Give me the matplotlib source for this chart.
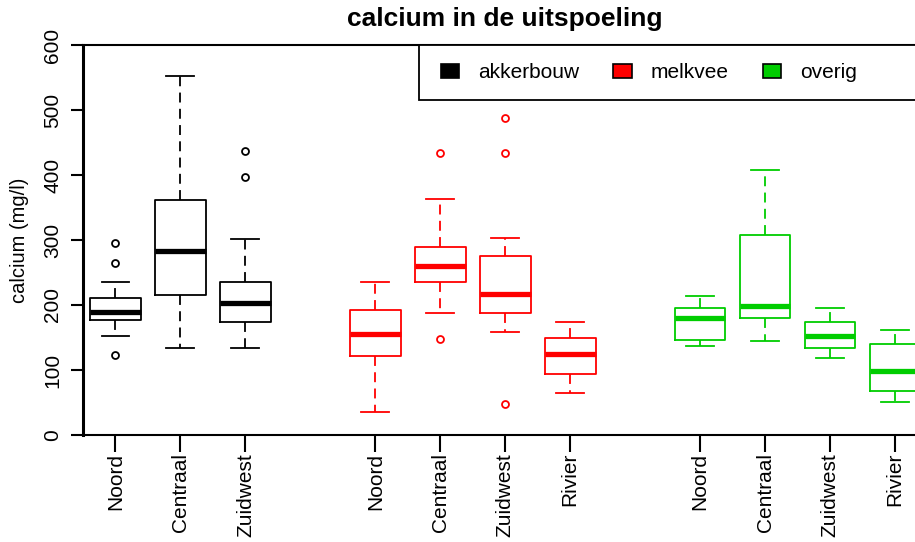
import matplotlib.pyplot as plt
from matplotlib.patches import Patch, Rectangle

plt.rcParams['font.family'] = ['Liberation Sans', 'DejaVu Sans']

regions = ["Noord", "Centraal", "Zuidwest", "Rivier"]
groups = ["akkerbouw", "melkvee", "overig"]
colors = ["black", "#FF0000", "#00CD00"]

# five-number summaries per group: whislo, q1, median, q3, whishi
akkerbouw = [[152, 177, 190, 211, 236],
             [134, 215, 283, 362, 552],
             [134, 174, 203, 236, 301]]
akkerbouw_out = [[123, 265, 296], [], [397, 437]]

melkvee = [[36, 122, 156, 193, 236],
           [187, 236, 260, 289, 363],
           [159, 187, 217, 276, 303],
           [64, 94, 125, 150, 174]]
melkvee_out = [[], [148, 434], [47, 434, 487], []]

overig = [[137, 146, 180, 196, 214],
          [144, 180, 199, 307, 408],
          [119, 134, 153, 174, 196],
          [51, 67, 98, 140, 161]]
overig_out = [[], [], [], []]

fig = plt.figure(figsize=(9.15, 5.42), dpi=100)
ax = fig.add_axes([83 / 915, 107 / 542, 844.5 / 915, 390 / 542])

summaries = [akkerbouw, melkvee, overig]
outliers = [akkerbouw_out, melkvee_out, overig_out]
ticks = []
tick_labels = []
pos = 1
for g in range(3):
    stats = []
    positions = []
    for i, s in enumerate(summaries[g]):
        stats.append(dict(whislo=s[0], q1=s[1], med=s[2], q3=s[3], whishi=s[4],
                          fliers=outliers[g][i]))
        positions.append(pos)
        ticks.append(pos)
        tick_labels.append(regions[i])
        pos += 1
    pos += 1
    c = colors[g]
    ax.bxp(stats, positions=positions, widths=0.78, capwidths=0.43,
           boxprops=dict(color=c, lw=1.3),
           medianprops=dict(color=c, lw=3.8, solid_capstyle='butt'),
           whiskerprops=dict(color=c, lw=1.3, linestyle=(0, (5.5, 3.5))),
           capprops=dict(color=c, lw=1.3),
           flierprops=dict(marker='o', markerfacecolor='none', markeredgecolor=c,
                           markersize=5, markeredgewidth=1.3),
           manage_ticks=False)

ax.set_xlim(0.5, 13.5)
ax.set_ylim(0, 600)
ax.set_yticks(range(0, 601, 100))
ax.set_xticks(ticks)
ax.set_xticklabels(tick_labels, rotation=90)
for lbl in ax.get_yticklabels():
    lbl.set_rotation(90)
    lbl.set_va('center')
ax.tick_params(axis='y', length=9, width=1.5, labelsize=15, pad=6)
ax.tick_params(axis='x', length=12, width=1.5, labelsize=15, pad=1)

ax.spines['right'].set_visible(False)
ax.spines['left'].set_linewidth(2.2)
ax.spines['top'].set_linewidth(1.5)
ax.spines['bottom'].set_linewidth(1.5)

ax.set_ylabel("calcium (mg/l)", fontsize=14.5)
ax.yaxis.set_label_coords(-0.064, 0.5)
ax.set_title("calcium in de uitspoeling", fontsize=19, fontweight='bold', pad=13.5)

# legend frame runs past the right edge of the plot
ax.add_patch(Rectangle((0.398, 0.859), 0.7, 0.141, transform=ax.transAxes,
                       facecolor='white', edgecolor='black', lw=1.3,
                       clip_on=False, zorder=5))
handles = [Patch(facecolor=c, edgecolor='black', lw=1.2) for c in colors]
leg = ax.legend(handles, groups, loc='center left', bbox_to_anchor=(0.424, 0.9295),
                ncol=3, frameon=False, fontsize=15, borderpad=0, borderaxespad=0,
                handlelength=0.87, handleheight=0.67, handletextpad=0.91,
                columnspacing=1.64)
leg.set_zorder(6)

fig.savefig("out.png", dpi=100)
